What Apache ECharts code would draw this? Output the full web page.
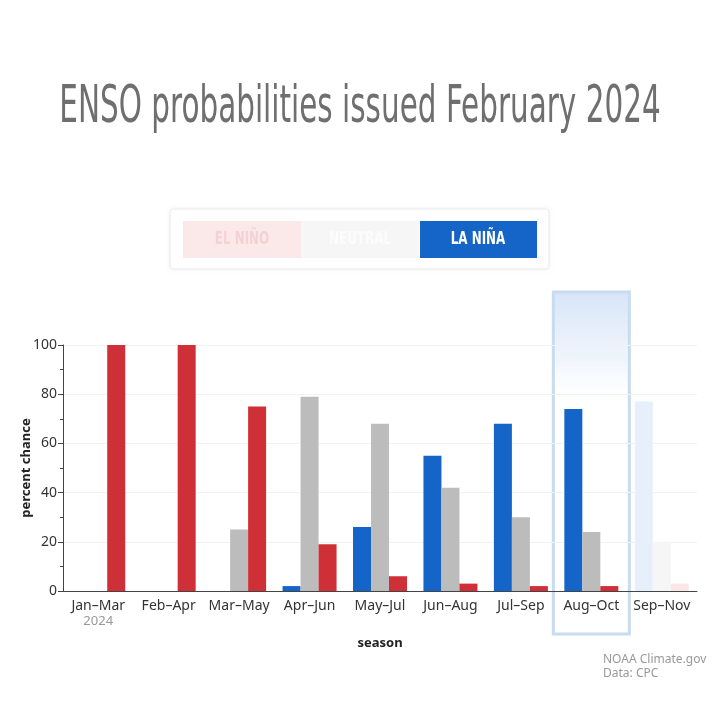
<!DOCTYPE html>
<html>
<head>
<meta charset="utf-8">
<script src="https://cdn.jsdelivr.net/npm/echarts@6/dist/echarts.min.js"></script>
<style>
  html, body { margin: 0; background: #fff; }
  #main { width: 720px; height: 720px; }
</style>
</head>
<body>
<div id="main"></div>
<script>
// seasons on the x axis
var seasons = ['Jan–Mar', 'Feb–Apr', 'Mar–May', 'Apr–Jun', 'May–Jul', 'Jun–Aug', 'Jul–Sep', 'Aug–Oct', 'Sep–Nov'];
// percent chance per season
var laNina  = [0, 0, 0, 2, 26, 55, 68, 74, 77];
var neutral = [0, 0, 25, 79, 68, 42, 30, 24, 20];
var elNino  = [100, 100, 75, 19, 6, 3, 2, 2, 3];
var legendNames = ['EL NIÑO', 'NEUTRAL', 'LA NIÑA'];

var chart = echarts.init(document.getElementById('main'));

// last season is drawn faded
function withFade(values, fadeColor) {
  return values.map(function (v, i) {
    if (i === values.length - 1) return { value: v, itemStyle: { color: fadeColor } };
    return v;
  });
}

var axisFont = 'Noto Sans';

var option = {
  animation: false,
  grid: { left: 63, right: 23, top: 345, bottom: 129 },
  xAxis: {
    type: 'category',
    data: seasons,
    name: 'season',
    nameLocation: 'middle',
    nameGap: 46,
    nameMoveOverlap: false,
    nameTextStyle: { fontFamily: axisFont, fontSize: 13, fontWeight: 'bold', color: '#222' },
    axisLine: { lineStyle: { color: '#444' } },
    axisTick: { alignWithLabel: true, lineStyle: { color: '#444' } },
    axisLabel: {
      interval: 0,
      fontFamily: axisFont, fontSize: 14, color: '#333', margin: 8,
      formatter: function (v, i) { return i === 0 ? v + '\n{yr|2024}' : v; },
      rich: { yr: { fontFamily: axisFont, fontSize: 13, color: '#999', lineHeight: 16 } }
    }
  },
  yAxis: {
    type: 'value',
    min: 0, max: 100, interval: 20,
    name: 'percent chance',
    nameLocation: 'middle',
    nameGap: 30,
    nameMoveOverlap: false,
    nameTextStyle: { fontFamily: axisFont, fontSize: 13, fontWeight: 'bold', color: '#222' },
    axisLine: { show: true, lineStyle: { color: '#444' } },
    axisTick: { show: true, lineStyle: { color: '#444' } },
    minorTick: { show: true, splitNumber: 2, length: 3, lineStyle: { color: '#444' } },
    splitLine: { lineStyle: { color: '#f2f2f2' } },
    axisLabel: { fontFamily: axisFont, fontSize: 14, color: '#333', margin: 6 }
  },
  series: [
    { name: 'La Niña', type: 'bar', barWidth: 18, barGap: '0%', itemStyle: { color: '#1565c8' },
      data: withFade(laNina, '#e7effa') },
    { name: 'Neutral', type: 'bar', barWidth: 18, barGap: '0%', itemStyle: { color: '#bcbcbc' },
      data: withFade(neutral, '#f6f6f6') },
    { name: 'El Niño', type: 'bar', barWidth: 18, barGap: '0%', itemStyle: { color: '#cf3038' },
      data: withFade(elNino, '#fbe7e7') }
  ]
};
chart.setOption(option);

// highlight box around Aug–Oct, placed from the axis scale
var cx = chart.convertToPixel({ xAxisIndex: 0 }, 'Aug–Oct');
var boxW = 76;

var condensed = '"DejaVu Sans Condensed", "DejaVu Sans", sans-serif';

function legendText(x, i, color) {
  return { type: 'text', x: x, y: 240, scaleX: 0.78,
    style: { text: legendNames[i], x: 0, y: 0, textAlign: 'center', textVerticalAlign: 'middle',
      font: 'bold 17px ' + condensed, fill: color } };
}

chart.setOption({
  graphic: [
    {
      type: 'text', x: 360, y: 134, scaleX: 0.63,
      style: { text: 'ENSO probabilities issued February 2024', x: 0, y: 0,
        textAlign: 'center', textVerticalAlign: 'bottom',
        font: 'normal 52px ' + condensed, fill: '#6f6f6f' }
    },
    {
      type: 'rect', shape: { x: 170, y: 209, width: 379, height: 60, r: 3 },
      style: { fill: '#fff', stroke: '#ececec', lineWidth: 1,
        shadowBlur: 4, shadowColor: 'rgba(0,0,0,0.06)' }
    },
    { type: 'rect', shape: { x: 183, y: 221, width: 118, height: 37 }, style: { fill: '#fbe8e8' } },
    { type: 'rect', shape: { x: 301, y: 221, width: 118, height: 37 }, style: { fill: '#f6f6f6' } },
    { type: 'rect', shape: { x: 420, y: 221, width: 117, height: 37 }, style: { fill: '#1565c8' } },
    legendText(242, 0, '#f5d2d2'),
    legendText(360, 1, '#fcfcfc'),
    legendText(478, 2, '#fff'),
    {
      type: 'rect', z: -1,
      shape: { x: cx - boxW / 2, y: 292, width: boxW, height: 342 },
      style: {
        fill: new echarts.graphic.LinearGradient(0, 0, 0, 1, [
          { offset: 0, color: 'rgba(210,226,246,0.9)' },
          { offset: 0.2, color: 'rgba(226,236,250,0.55)' },
          { offset: 0.28, color: 'rgba(240,245,252,0.2)' },
          { offset: 0.3, color: 'rgba(255,255,255,0)' },
          { offset: 1, color: 'rgba(255,255,255,0)' }
        ]),
        stroke: '#c8dbf0', lineWidth: 3
      }
    },
    { type: 'text', x: 603, y: 653, style: { text: 'NOAA Climate.gov\nData: CPC', lineHeight: 14,
        font: '12px ' + axisFont, fill: '#999' } }
  ]
});
</script>
</body>
</html>
